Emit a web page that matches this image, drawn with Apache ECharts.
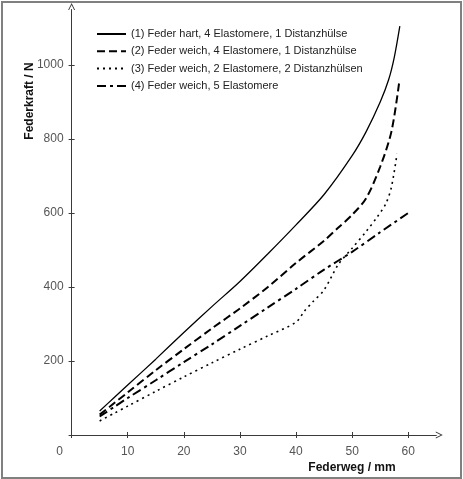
<!DOCTYPE html>
<html>
<head>
<meta charset="utf-8">
<script src="https://cdn.jsdelivr.net/npm/echarts@6/dist/echarts.min.js"></script>
<style>
html,body{margin:0;padding:0;background:#fff;}
#c{width:463px;height:479px;}
</style>
</head>
<body>
<div id="c"></div>
<script>
// ---- data ----
const seriesNames = [
  '(1) Feder hart, 4 Elastomere, 1 Distanzhülse',
  '(2) Feder weich, 4 Elastomere, 1 Distanzhülse',
  '(3) Feder weich, 2 Elastomere, 2 Distanzhülsen',
  '(4) Feder weich, 5 Elastomere'
];
const weg1 = [5, 7.5, 10, 15, 20, 25, 30, 35, 40, 45, 50, 52.5, 55, 56.5, 57.5, 58.5];
const kraft1 = [65, 100, 135, 205, 277, 347, 415, 490, 568, 650, 755, 820, 900, 960, 1020, 1105];
const weg2 = [5, 7.5, 10, 15, 20, 25, 30, 35, 40, 45, 47.5, 50, 52.5, 55, 57, 58.4];
const kraft2 = [55, 85, 115, 175, 232, 288, 342, 400, 465, 525, 560, 595, 640, 725, 820, 955];
const weg3 = [5, 7.5, 10, 15, 20, 25, 30, 35, 40, 41.5, 43, 45, 47.5, 50, 52.5, 54.5, 56, 57, 58];
const kraft3 = [38, 58, 78, 118, 157, 195, 232, 268, 305, 335, 360, 392, 460, 505, 550, 590, 625, 670, 760];
const weg4 = [5, 7.5, 10, 15, 20, 25, 30, 35, 40, 45, 50, 55, 60];
const kraft4 = [50, 75, 100, 148, 197, 245, 295, 345, 395, 447, 495, 548, 600];
const xTicks = [0, 10, 20, 30, 40, 50, 60];
const yTicks = [0, 200, 400, 600, 800, 1000];
const xTitle = 'Federweg / mm';
const yTitle = 'Federkraft / N';

function pairs(xs, ys) { return xs.map((x, i) => [x, ys[i]]); }

const FONT = '"Liberation Sans", Arial, sans-serif';
const AXIS_COLOR = '#3a3a3a';
const LABEL_COLOR = '#555';
const arrowPath = 'path://M0,10 L5,0 L10,10 L8.6,10 L5,2.8 L1.4,10 Z';

const chart = echarts.init(document.getElementById('c'), null, {renderer: 'canvas'});

const baseX = {
  type: 'value', min: 0, max: 65, gridIndex: 0, position: 'bottom',
  splitLine: {show: false}
};
const baseY = {
  type: 'value', min: 0, max: 1150, gridIndex: 0, position: 'left',
  splitLine: {show: false}
};

const styles = [
  {type: 'solid', width: 1.3},
  {type: [8, 4], width: 2},
  {type: [2, 4], width: 1.6},
  {type: [9, 4, 3, 4], width: 2}
];
const dataSets = [pairs(weg1, kraft1), pairs(weg2, kraft2), pairs(weg3, kraft3), pairs(weg4, kraft4)];

chart.setOption({
  animation: false,
  backgroundColor: '#fff',
  grid: {left: 71.6, top: 9.5, width: 364.7, height: 425.5, containLabel: false},
  legend: {
    orient: 'vertical', left: 96, top: 28, padding: 0,
    itemWidth: 29, itemHeight: 12, itemGap: 5.3,
    itemStyle: {opacity: 0},
    textStyle: {fontFamily: FONT, fontSize: 11, color: '#222', lineHeight: 12},
    data: seriesNames
  },
  xAxis: [
    Object.assign({}, baseX, {
      axisLine: {show: true, lineStyle: {color: AXIS_COLOR, width: 1}, symbol: ['none', arrowPath], symbolSize: [7, 7], symbolOffset: [0, 3]},
      axisTick: {show: true, inside: false, length: 3, lineStyle: {color: AXIS_COLOR}, customValues: xTicks},
      axisLabel: {
        show: true, margin: 11, color: LABEL_COLOR, fontFamily: FONT, fontSize: 12,
        customValues: xTicks,
        formatter: function (v) { return v === 0 ? '{z|0}' : String(v); },
        rich: {z: {padding: [0, 24, 0, 0], color: LABEL_COLOR, fontFamily: FONT, fontSize: 12}}
      }
    }),
    Object.assign({}, baseX, {
      axisLine: {show: false},
      axisTick: {show: true, inside: true, length: 3, lineStyle: {color: AXIS_COLOR}, customValues: xTicks},
      axisLabel: {show: false}
    })
  ],
  yAxis: [
    Object.assign({}, baseY, {
      axisLine: {show: true, lineStyle: {color: AXIS_COLOR, width: 1}, symbol: ['none', arrowPath], symbolSize: [7, 7], symbolOffset: [0, 3]},
      axisTick: {show: true, inside: false, length: 3, lineStyle: {color: AXIS_COLOR}, customValues: yTicks},
      axisLabel: {
        show: true, margin: 8, color: LABEL_COLOR, fontFamily: FONT, fontSize: 12,
        customValues: yTicks.filter(v => v !== 0),
        formatter: function (v) { return String(v); }
      }
    }),
    Object.assign({}, baseY, {
      axisLine: {show: false},
      axisTick: {show: true, inside: true, length: 3, lineStyle: {color: AXIS_COLOR}, customValues: yTicks},
      axisLabel: {show: false}
    })
  ],
  graphic: [
    {type: 'rect', silent: true, z: 100, shape: {x: 2, y: 2, width: 459, height: 476},
     style: {fill: 'none', stroke: '#808080', lineWidth: 2}},
    {type: 'text', x: 30, y: 101, rotation: Math.PI / 2,
     style: {text: yTitle, font: 'bold 12px ' + FONT, fill: '#111', align: 'center', verticalAlign: 'middle'}},
    {type: 'text', x: 352, y: 468,
     style: {text: xTitle, font: 'bold 12px ' + FONT, fill: '#111', align: 'center', verticalAlign: 'middle'}}
  ],
  series: dataSets.map((d, i) => ({
    name: seriesNames[i], type: 'line', xAxisIndex: 0, yAxisIndex: 0,
    data: d, symbol: 'none', smooth: 0.3,
    lineStyle: {color: '#000', type: styles[i].type, width: styles[i].width},
    itemStyle: {color: '#000'}
  }))
});
</script>
</body>
</html>
